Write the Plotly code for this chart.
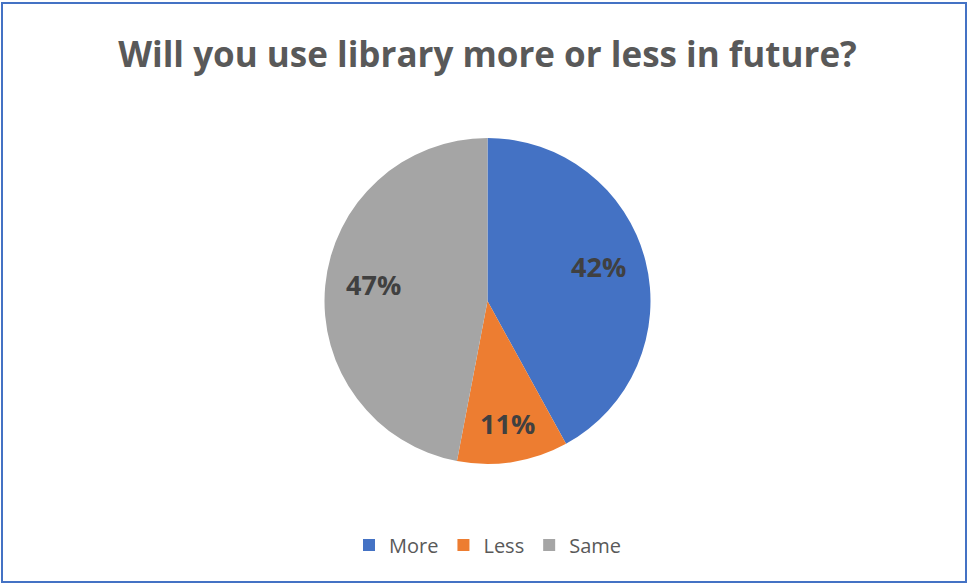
import math
import plotly.graph_objects as go

labels = ["More", "Less", "Same"]
values = [42, 11, 47]
colors = ["#4472C4", "#ED7D31", "#A5A5A5"]

W, H = 969, 586
ml, mr, mt, mb = 6, 0, 138, 122
pw, ph = W - ml - mr, H - mt - mb

def px_x(x):
    return (x - ml) / pw

def px_y(y):
    return (H - mb - y) / ph

fig = go.Figure(go.Pie(
    labels=labels,
    values=values,
    sort=False,
    direction="clockwise",
    rotation=0,
    marker=dict(colors=colors, line=dict(width=0)),
    textinfo="none",
    hoverinfo="label+percent",
))

# percent labels placed like Excel's data labels (further out than plotly's inside text)
radius_px = ph / 2
total = sum(values)
cum = 0
annotations = []
for v in values:
    share = v / total
    mid = (cum + v / 2) / total * 2 * math.pi
    cum += v
    r = (0.8 if share < 0.15 else 0.7) * radius_px
    dx = r * math.sin(mid)
    dy = r * math.cos(mid) + 6
    annotations.append(dict(
        x=0.5 + dx / pw,
        y=0.5 + dy / ph,
        xref="paper",
        yref="paper",
        xanchor="center",
        yanchor="middle",
        text=f"<b>{round(share * 100)}%</b>",
        showarrow=False,
        font=dict(family="Open Sans", size=27, color="#404040"),
    ))

fig.update_layout(
    width=W,
    height=H,
    margin=dict(l=ml, r=mr, t=mt, b=mb),
    paper_bgcolor="white",
    plot_bgcolor="white",
    title=dict(
        text="<b>Will you use library more or less in future?</b>",
        x=0.5 + (ml - mr) / (2 * W),
        xanchor="center",
        y=1 - 55 / H,
        yanchor="middle",
        font=dict(family="Open Sans", size=35, color="#595959"),
    ),
    legend=dict(
        orientation="h",
        x=0.5,
        xanchor="center",
        y=px_y(545),
        yanchor="middle",
        font=dict(family="Open Sans", size=20, color="#595959"),
        itemwidth=30,
        traceorder="normal",
    ),
    annotations=annotations,
    shapes=[dict(
        type="rect",
        xref="paper",
        yref="paper",
        x0=px_x(2),
        x1=px_x(966),
        y0=px_y(582),
        y1=px_y(3),
        line=dict(color="#4472C4", width=2),
        fillcolor="rgba(0,0,0,0)",
        layer="below",
    )],
)

fig.write_html(
    "out.html",
    config={"displayModeBar": False},
    post_script="document.body.style.margin='0';document.body.style.overflow='hidden';",
)
